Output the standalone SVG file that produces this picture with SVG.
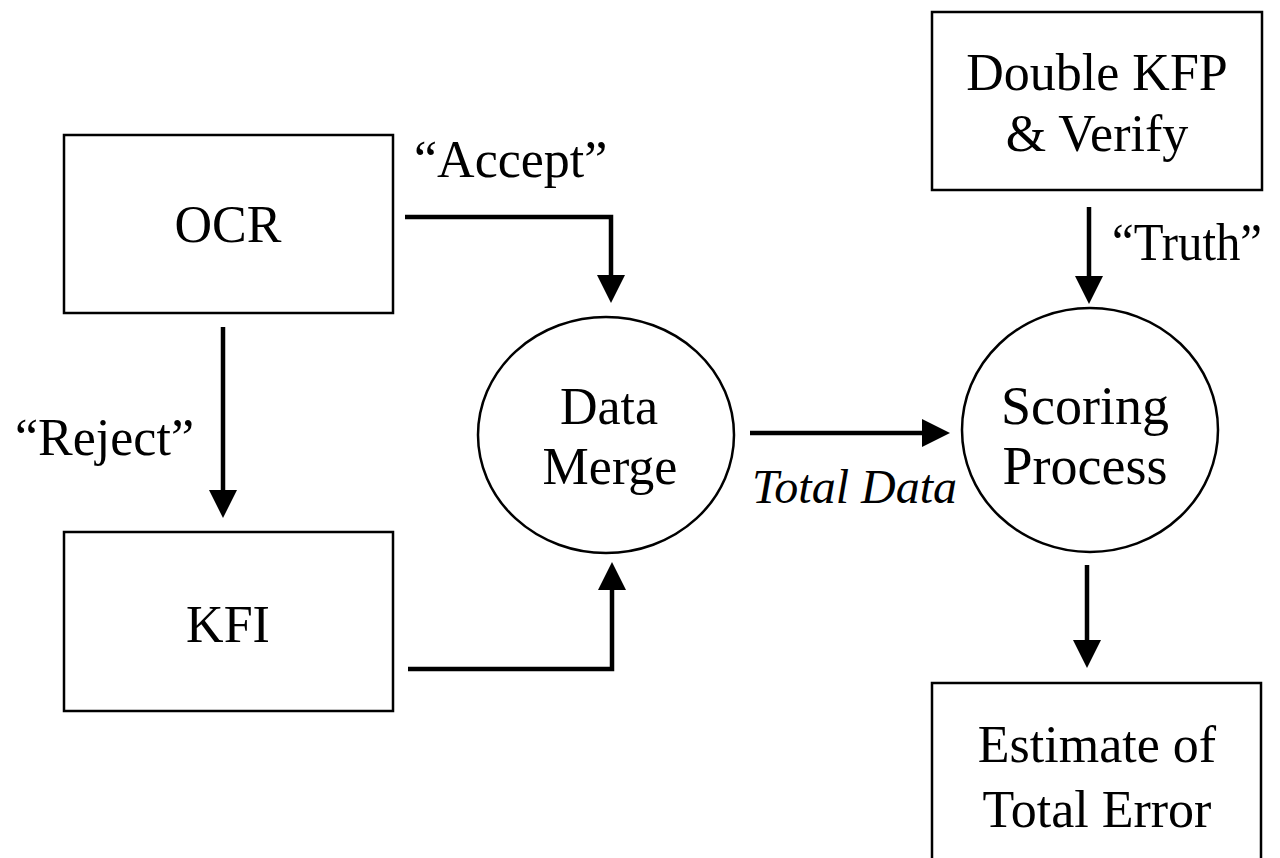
<svg xmlns="http://www.w3.org/2000/svg" width="1280" height="858" viewBox="0 0 1280 858">
<style>
.box{fill:#fff;stroke:#000;stroke-width:2.5}
.t{font-family:"Liberation Serif","Times New Roman",serif;font-size:52px;fill:#000;text-anchor:middle}
.lbl{font-family:"Liberation Serif","Times New Roman",serif;font-size:52px;fill:#000}
.it{font-family:"Liberation Serif","Times New Roman",serif;font-size:48px;font-style:italic;fill:#000}
.c{fill:none;stroke:#000;stroke-width:4.5;marker-end:url(#ah)}
</style>
<defs>
<marker id="ah" markerUnits="userSpaceOnUse" markerWidth="28" markerHeight="28" refX="0" refY="14" orient="auto" viewBox="0 0 28 28">
<path d="M0,0 L28,14 L0,28 z" fill="#000"/>
</marker>
</defs>
<rect width="1280" height="858" fill="#fff"/>
<g id="connectors">
<path class="c" d="M223,327 V490"/>
<path class="c" d="M405,217 H611 V275"/>
<path class="c" d="M408,669 H612 V590"/>
<path class="c" d="M750,433 H922"/>
<path class="c" d="M1089,207 V276"/>
<path class="c" d="M1087,565 V640"/>
</g>
<g id="labels">
<text class="lbl" x="15" y="455">“Reject”</text>
<text class="lbl" x="414" y="177">“Accept”</text>
<text class="lbl" x="1112" y="260" textLength="150" lengthAdjust="spacingAndGlyphs">“Truth”</text>
<text class="it" x="752" y="503">Total Data</text>
</g>
<g id="ocr">
<rect class="box" x="64" y="135" width="329" height="178"/>
<text class="t" x="228" y="242">OCR</text>
</g>
<g id="kfi">
<rect class="box" x="64" y="532" width="329" height="179"/>
<text class="t" x="228" y="642">KFI</text>
</g>
<g id="data-merge">
<ellipse class="box" cx="606" cy="435" rx="128" ry="118"/>
<text class="t" x="609" y="424">Data</text>
<text class="t" x="610" y="484">Merge</text>
</g>
<g id="double-kfp">
<rect class="box" x="932" y="12" width="330" height="178"/>
<text class="t" x="1097" y="90">Double KFP</text>
<text class="t" x="1097" y="151">&amp; Verify</text>
</g>
<g id="scoring">
<ellipse class="box" cx="1090" cy="430" rx="128" ry="122"/>
<text class="t" x="1085" y="424" style="font-size:54px">Scoring</text>
<text class="t" x="1085" y="484" style="font-size:54px">Process</text>
</g>
<g id="estimate">
<rect class="box" x="932" y="683" width="329" height="190"/>
<text class="t" x="1097" y="762">Estimate of</text>
<text class="t" x="1097" y="827">Total Error</text>
</g>
</svg>
